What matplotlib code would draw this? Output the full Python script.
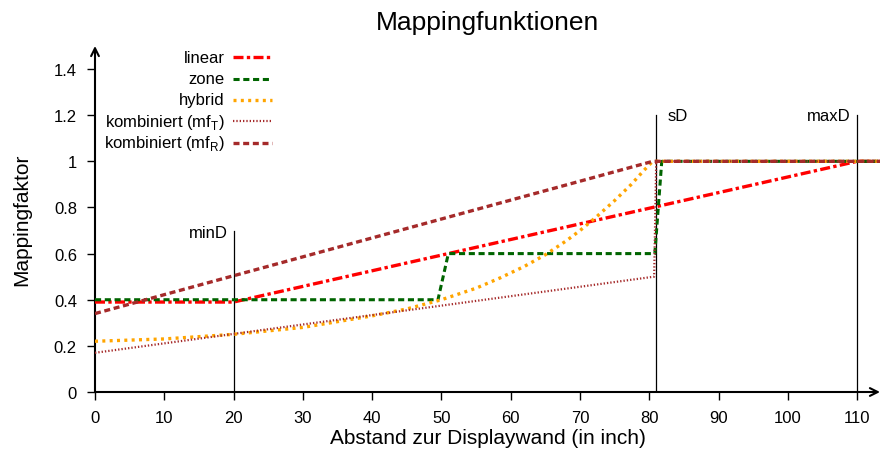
import numpy as np
import matplotlib
matplotlib.use('Agg')
import matplotlib.pyplot as plt

plt.rcParams['font.family'] = ['Liberation Sans', 'DejaVu Sans']

# == DATA ==
lin_x = [0, 20, 110, 113.3]
lin_y = [0.39, 0.39, 1.0, 1.0]

zone_x = [0, 49.5, 51, 80.8, 81.8, 113.3]
zone_y = [0.4, 0.4, 0.6, 0.6, 1.0, 1.0]

hyb_x = [0, 10, 20, 30, 40, 45, 50, 55, 58.5, 62, 65, 68, 70, 72.4, 75, 77.4, 79.2, 80.5, 113.3]
hyb_y = [0.22, 0.23, 0.25, 0.28, 0.33, 0.36, 0.40, 0.45, 0.495, 0.545, 0.595, 0.655, 0.70, 0.76, 0.83, 0.90, 0.96, 1.0, 1.0]

mft_x = [0, 80.7, 81.0, 113.3]
mft_y = [0.17, 0.50, 1.0, 1.0]

mfr_x = [0, 80.5, 113.3]
mfr_y = [0.34, 1.0, 1.0]

marks = [('minD', 20, 0.7), ('sD', 81, 1.2), ('maxD', 110, 1.2)]

xticks = np.arange(0, 111, 10)
yticks = [0, 0.2, 0.4, 0.6, 0.8, 1.0, 1.2, 1.4]
ytick_labels = ['0', '0.2', '0.4', '0.6', '0.8', '1', '1.2', '1.4']

# == FIGURE ==
fig = plt.figure(figsize=(8.8, 4.52), dpi=100)
ytop = 1.5
ax = fig.add_axes([95/880, 1-393/452, 1-95/880, (393-47)/452])
xmax = 113.3
ax.set_xlim(0, xmax)
ax.set_ylim(0, ytop)

for s in ['top', 'right', 'left', 'bottom']:
    ax.spines[s].set_visible(False)

# axes with arrows
ax.annotate('', xy=(0, ytop), xytext=(0, 0), xycoords='data',
            arrowprops=dict(arrowstyle='->', lw=1.5, color='black',
                            shrinkA=0, shrinkB=0, mutation_scale=14),
            annotation_clip=False)
ax.annotate('', xy=(xmax, 0), xytext=(0, 0), xycoords='data',
            arrowprops=dict(arrowstyle='->', lw=1.5, color='black',
                            shrinkA=0, shrinkB=0, mutation_scale=14),
            annotation_clip=False)

# markers minD, sD, maxD
for name, xv, top in marks:
    ax.plot([xv, xv], [0, top], color='black', lw=0.9, zorder=1)
for name, xv, top in marks:
    if name == 'sD':
        ax.text(xv + 1.7, top, name, ha='left', va='center', fontsize=12)
    elif name == 'minD':
        ax.text(xv - 0.8, top - 0.01, name, ha='right', va='center', fontsize=12)
    else:
        ax.text(xv - 1.0, top, name, ha='right', va='center', fontsize=12)

styles = [
    ('linear', lin_x, lin_y, dict(color='#ff0000', lw=2.4, dashes=(3.0, 1.0, 1.0, 1.0))),
    ('zone', zone_x, zone_y, dict(color='#006400', lw=2.2, dashes=(2.0, 1.2))),
    ('hybrid', hyb_x, hyb_y, dict(color='#ffa500', lw=2.4, dashes=(0.9, 1.3))),
    ('kombiniert (mf$_\\mathregular{T}$)', mft_x, mft_y,
     dict(color='#a52a2a', lw=1.6, dashes=(0.6, 0.9))),
    ('kombiniert (mf$_\\mathregular{R}$)', mfr_x, mfr_y,
     dict(color='#a52a2a', lw=2.4, dashes=(1.8, 1.1))),
]

# gnuplot-like key: label right aligned, sample on the right
key_rows = [0.968, 0.905, 0.844, 0.783, 0.720]
for (label, xs, ys, st), ry in zip(styles, key_rows):
    ax.plot(xs, ys, zorder=3, **st)
    ax.plot([0.1758, 0.2255], [ry, ry], transform=ax.transAxes,
            clip_on=False, **st)
    ax.text(0.1656, ry - 0.013, label, transform=ax.transAxes,
            ha='right', va='baseline', fontsize=12)

ax.set_xticks(xticks)
ax.set_yticks(yticks)
ax.set_yticklabels(ytick_labels)
ax.tick_params(direction='out', length=6, width=1, labelsize=12, pad=7)

ax.set_xlabel('Abstand zur Displaywand (in inch)', fontsize=15, labelpad=2)
ax.set_ylabel('Mappingfaktor', fontsize=15, labelpad=16)
ax.set_title('Mappingfunktionen', fontsize=19, pad=12)

fig.savefig('out.png', dpi=100)
